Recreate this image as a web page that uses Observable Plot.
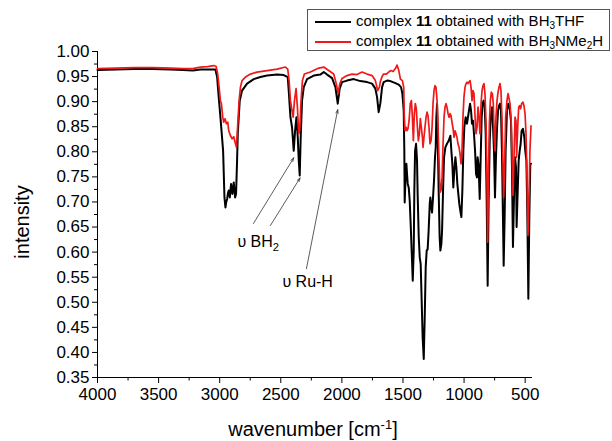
<!DOCTYPE html>
<html>
<head>
<meta charset="utf-8">
<script src="https://cdn.jsdelivr.net/npm/d3@7"></script>
<script src="https://cdn.jsdelivr.net/npm/@observablehq/plot@0.6"></script>
<style>
  body { margin: 0; background: #fff; }
  #wrap { position: relative; width: 612px; height: 441px; overflow: hidden; font-family: "Liberation Sans", Arial, sans-serif; color: #000; }
  #chart svg { display: block; }
  #legend { position: absolute; left: 307px; top: 9px; width: 303px; height: 42px; border: 1px solid #555; box-sizing: border-box; background: #fff; }
  .lrow { position: absolute; left: 0; height: 20px; font-size: 15px; line-height: 20px; white-space: nowrap; }
  .lline { position: absolute; left: 7px; width: 36px; top: 10px; }
  .ltext { position: absolute; left: 48px; top: 0; }
  .ltext sub { font-size: 10px; vertical-align: -3px; line-height: 0; }
  #ylabel { position: absolute; left: 22px; top: 222px; font-size: 20px; transform: translate(-50%, -50%) rotate(-90deg); white-space: nowrap; }
  #xlabel { position: absolute; left: 313px; top: 418px; font-size: 20px; transform: translateX(-50%); white-space: nowrap; }
  #xlabel sup { font-size: 13px; vertical-align: 7px; line-height: 0; }
</style>
</head>
<body>
<div id="wrap">
  <div id="chart"></div>
  <div id="ylabel"></div>
  <div id="xlabel"></div>
  <div id="legend"></div>
</div>
<script>
// ---- Data ----
const seriesNames = ["complex <b>11</b> obtained with BH<sub>3</sub>THF", "complex <b>11</b> obtained with BH<sub>3</sub>NMe<sub>2</sub>H"];
const seriesColors = ["#000000", "#f01818"];

// complex 11 obtained with BH3THF (black)
const thfWave = [4000,3850,3700,3550,3400,3300,3220,3158,3080,3035,3021,3010,2994,2972,2961,2953,2946,2939,2932,2926,2917,2907,2896,2885,2874,2866,2858,2852,2836,2817,2776,2721,2667,2612,2530,2476,2443,2435,2421,2408,2394,2383,2372,2361,2353,2345,2337,2326,2312,2285,2230,2176,2148,2121,2080,2053,2034,2018,1999,1958,1903,1849,1794,1753,1726,1712,1699,1685,1671,1658,1630,1603,1562,1535,1516,1505,1494,1489,1486,1478,1472,1467,1461,1453,1445,1437,1429,1420,1412,1407,1401,1393,1385,1380,1371,1363,1355,1347,1339,1330,1322,1314,1306,1298,1290,1281,1276,1268,1262,1254,1246,1238,1232,1227,1221,1216,1208,1200,1194,1186,1180,1172,1164,1153,1140,1126,1112,1104,1096,1088,1080,1071,1063,1055,1047,1039,1031,1022,1014,1006,998,987,976,968,960,951,943,935,927,919,910,902,894,889,881,872,864,856,848,840,831,823,815,807,799,790,782,771,763,755,747,739,730,722,714,706,698,690,681,676,668,660,649,638,627,616,608,600,592,583,575,570,561,553,545,537,529,518,507,499,490,482,474,466,458,452];
const thfValue = [0.963,0.964,0.965,0.965,0.964,0.963,0.962,0.964,0.964,0.964,0.949,0.915,0.869,0.802,0.709,0.689,0.700,0.706,0.718,0.723,0.709,0.736,0.716,0.739,0.709,0.716,0.780,0.836,0.902,0.922,0.936,0.945,0.949,0.952,0.954,0.953,0.949,0.922,0.869,0.849,0.802,0.842,0.869,0.829,0.783,0.753,0.829,0.902,0.929,0.945,0.952,0.954,0.959,0.954,0.947,0.929,0.896,0.926,0.939,0.942,0.945,0.941,0.939,0.936,0.926,0.909,0.879,0.897,0.929,0.939,0.942,0.941,0.937,0.934,0.929,0.916,0.882,0.802,0.699,0.756,0.776,0.756,0.736,0.729,0.703,0.656,0.603,0.543,0.603,0.723,0.802,0.816,0.783,0.716,0.630,0.590,0.576,0.503,0.430,0.387,0.470,0.570,0.603,0.606,0.643,0.696,0.709,0.689,0.679,0.709,0.743,0.789,0.809,0.869,0.896,0.836,0.723,0.630,0.603,0.616,0.643,0.723,0.789,0.809,0.816,0.822,0.832,0.802,0.776,0.729,0.763,0.789,0.769,0.736,0.716,0.696,0.683,0.670,0.723,0.802,0.849,0.869,0.856,0.869,0.882,0.896,0.882,0.856,0.862,0.836,0.802,0.756,0.749,0.789,0.773,0.706,0.789,0.869,0.896,0.902,0.889,0.836,0.703,0.533,0.703,0.822,0.869,0.889,0.849,0.802,0.709,0.789,0.849,0.882,0.892,0.896,0.882,0.802,0.656,0.573,0.670,0.802,0.882,0.896,0.886,0.862,0.769,0.610,0.703,0.789,0.769,0.650,0.723,0.783,0.802,0.816,0.842,0.846,0.829,0.802,0.783,0.670,0.507,0.670,0.776,0.776];

// complex 11 obtained with BH3NMe2H (red)
const nmeWave = [4000,3850,3700,3550,3400,3300,3220,3158,3100,3048,3029,3016,3005,2994,2986,2975,2967,2956,2945,2934,2926,2912,2898,2885,2874,2863,2852,2841,2830,2817,2789,2748,2694,2612,2530,2462,2443,2432,2421,2408,2399,2388,2375,2364,2353,2345,2334,2323,2307,2258,2189,2148,2108,2067,2045,2031,2018,1999,1958,1917,1876,1835,1794,1753,1726,1707,1693,1685,1671,1658,1636,1617,1598,1581,1562,1549,1535,1521,1505,1494,1489,1483,1475,1467,1459,1450,1440,1431,1423,1415,1407,1399,1391,1382,1374,1366,1358,1350,1341,1336,1328,1320,1311,1303,1295,1287,1279,1270,1262,1254,1246,1238,1230,1221,1213,1205,1197,1189,1180,1172,1164,1156,1148,1140,1131,1123,1115,1107,1099,1090,1082,1074,1066,1058,1050,1041,1033,1025,1017,1009,1001,992,984,976,968,960,951,943,935,927,919,910,902,894,886,878,870,861,853,845,837,829,820,812,807,801,793,785,777,769,761,752,747,739,730,722,714,706,698,690,681,676,668,660,649,640,632,624,616,608,600,592,583,575,570,561,553,545,537,529,518,510,501,493,485,477,469,461,452];
const nmeValue = [0.966,0.967,0.968,0.968,0.967,0.966,0.966,0.969,0.970,0.972,0.970,0.955,0.929,0.902,0.896,0.869,0.859,0.866,0.856,0.859,0.842,0.832,0.826,0.830,0.819,0.809,0.856,0.902,0.929,0.942,0.949,0.955,0.959,0.962,0.965,0.969,0.965,0.942,0.902,0.882,0.869,0.902,0.926,0.889,0.836,0.842,0.902,0.942,0.955,0.959,0.967,0.969,0.962,0.955,0.935,0.916,0.935,0.946,0.952,0.955,0.954,0.959,0.955,0.952,0.942,0.922,0.929,0.940,0.950,0.955,0.955,0.959,0.962,0.960,0.966,0.973,0.963,0.945,0.942,0.929,0.869,0.842,0.849,0.842,0.846,0.862,0.896,0.902,0.869,0.822,0.876,0.896,0.886,0.849,0.822,0.836,0.866,0.849,0.829,0.809,0.829,0.849,0.869,0.879,0.872,0.849,0.816,0.822,0.849,0.896,0.922,0.932,0.929,0.902,0.849,0.783,0.719,0.723,0.749,0.816,0.869,0.889,0.896,0.889,0.876,0.869,0.876,0.872,0.859,0.846,0.829,0.842,0.836,0.829,0.816,0.809,0.796,0.776,0.802,0.869,0.909,0.929,0.936,0.939,0.936,0.939,0.942,0.929,0.902,0.922,0.916,0.869,0.836,0.849,0.889,0.869,0.836,0.896,0.922,0.932,0.936,0.916,0.856,0.736,0.620,0.736,0.856,0.902,0.919,0.916,0.896,0.822,0.802,0.869,0.902,0.919,0.929,0.936,0.922,0.869,0.769,0.709,0.769,0.869,0.902,0.916,0.906,0.896,0.869,0.802,0.713,0.783,0.869,0.862,0.789,0.849,0.889,0.892,0.886,0.896,0.899,0.892,0.876,0.836,0.749,0.633,0.703,0.802,0.852];

// axis ticks
const xMajor = [4000,3500,3000,2500,2000,1500,1000,500];
const xMinor = [3750,3250,2750,2250,1750,1250,750];
const yMajor = [0.35,0.40,0.45,0.50,0.55,0.60,0.65,0.70,0.75,0.80,0.85,0.90,0.95,1.00];
const yMinor = [0.375,0.425,0.475,0.525,0.575,0.625,0.675,0.725,0.775,0.825,0.875,0.925,0.975];

// annotations
const noteText = ["υ BH_2", "υ Ru-H"];
const noteWave = [2855, 2487];
const noteValue = [0.621, 0.540];
const arrowFromWave = [2724, 2585, 2290];
const arrowFromValue = [0.657, 0.653, 0.567];
const arrowToWave = [2394, 2342, 2034];
const arrowToValue = [0.788, 0.748, 0.884];

const xLabelHTML = "wavenumber [cm<sup>-1</sup>]";
const yLabelText = "intensity";

// ---- Build ----
const thf = thfWave.map((w, i) => ({w, v: thfValue[i]}));
const nme = nmeWave.map((w, i) => ({w, v: nmeValue[i]}));
const notes = noteText.map((t, i) => ({t, w: noteWave[i], v: noteValue[i]}));
const arrows = arrowToWave.map((w, i) => ({x1: arrowFromWave[i], y1: arrowFromValue[i], x2: w, y2: arrowToValue[i]}));

const chart = Plot.plot({
  width: 612,
  height: 441,
  marginLeft: 97,
  marginRight: 80,
  marginTop: 51,
  marginBottom: 64,
  x: {domain: [4000, 440]},
  y: {domain: [0.35, 1.0]},
  style: {fontFamily: "'Liberation Sans', Arial, sans-serif", fontSize: "17px", color: "#000", background: "#fff", overflow: "visible"},
  marks: [
    Plot.ruleX([4000], {y1: 0.35, y2: 1.0, stroke: "#000", strokeWidth: 1}),
    Plot.ruleY([0.35], {x1: 4000, x2: 440, stroke: "#000", strokeWidth: 1}),
    Plot.axisY(yMajor, {tickSize: 5, tickPadding: 3, tickFormat: d => d.toFixed(2), label: null, strokeOpacity: 1}),
    Plot.axisY(yMinor, {tickSize: 3, tickFormat: () => "", label: null, strokeOpacity: 1}),
    Plot.axisX(xMajor, {tickSize: 6, tickPadding: 4, tickFormat: d => String(d), label: null, strokeOpacity: 1}),
    Plot.axisX(xMinor, {tickSize: 3.5, tickFormat: () => "", label: null, strokeOpacity: 1}),
    Plot.line(thf, {x: "w", y: "v", stroke: seriesColors[0], strokeWidth: 2, strokeLinejoin: "round"}),
    Plot.line(nme, {x: "w", y: "v", stroke: seriesColors[1], strokeWidth: 1.7, strokeLinejoin: "round"}),
    Plot.arrow(arrows, {x1: "x1", y1: "y1", x2: "x2", y2: "y2", stroke: "#333", strokeWidth: 0.8, headLength: 7, headAngle: 35}),
    Plot.text(notes, {x: "w", y: "v", text: "t", textAnchor: "start", fontSize: 16})
  ]
});
document.getElementById("chart").appendChild(chart);

// subscripts in annotation text
chart.querySelectorAll("text").forEach(t => {
  const s = t.textContent;
  const k = s.indexOf("_");
  if (k < 0) return;
  t.textContent = s.slice(0, k);
  const ts = document.createElementNS("http://www.w3.org/2000/svg", "tspan");
  ts.setAttribute("dy", "0.35em");
  ts.setAttribute("font-size", "0.7em");
  ts.textContent = s.slice(k + 1);
  t.appendChild(ts);
});

document.getElementById("ylabel").textContent = yLabelText;
document.getElementById("xlabel").innerHTML = xLabelHTML;

const legend = document.getElementById("legend");
seriesNames.forEach((name, i) => {
  const row = document.createElement("div");
  row.className = "lrow";
  row.style.top = (i === 0 ? 1 : 21) + "px";
  row.style.width = "300px";
  const line = document.createElement("div");
  line.className = "lline";
  line.style.borderTop = "2px solid " + seriesColors[i];
  const txt = document.createElement("div");
  txt.className = "ltext";
  txt.innerHTML = name;
  row.appendChild(line);
  row.appendChild(txt);
  legend.appendChild(row);
});
</script>
</body>
</html>
